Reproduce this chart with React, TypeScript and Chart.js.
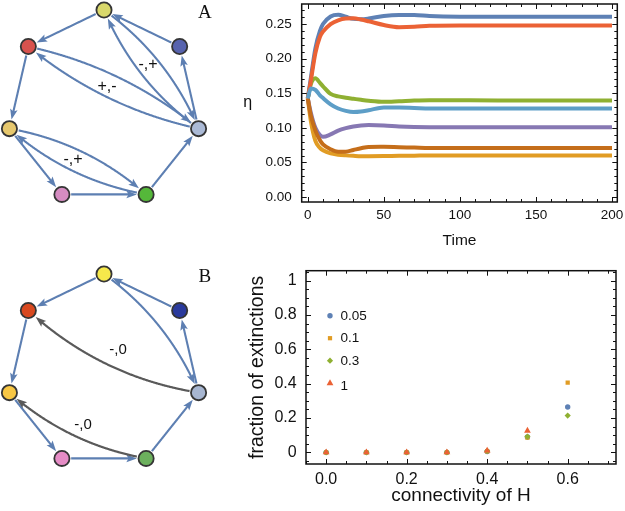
import React, { useEffect, useRef } from "react";
import { Chart, registerables } from "chart.js";

Chart.register(...registerables);

// ---------------- Network panels (A, B): node layout in unit-circle units ----------------
const nodeX = [0, 0.78, 0.975, 0.434, -0.434, -0.975, -0.78];
const nodeY = [1, 0.623, -0.223, -0.901, -0.901, -0.223, 0.623];
const nodeColorsA = ["#d9d86b", "#5763ae", "#abbad6", "#55b83a", "#d58cc1", "#e7c86d", "#d8524e"];
const nodeColorsB = ["#f6e94b", "#2a3a9c", "#a7b6d1", "#6cb05d", "#e68cc6", "#f8c744", "#d9491f"];

const edgeFromA = [0, 6, 5, 4, 3, 2, 1, 0, 2, 6, 2, 5, 3];
const edgeToA = [6, 5, 4, 3, 2, 1, 0, 2, 0, 2, 6, 3, 5];
const edgeBendA = [0, 0, 0, 0, 0, 0, 0, 0.07, 0.07, 0.06, 0.06, 0.07, 0.07];
const edgeKindA = ["b", "b", "b", "b", "b", "b", "b", "b", "b", "b", "b", "b", "b"];

const edgeFromB = [0, 6, 5, 4, 3, 2, 1, 0, 2, 3];
const edgeToB = [6, 5, 4, 3, 2, 1, 0, 2, 6, 5];
const edgeBendB = [0, 0, 0, 0, 0, 0, 0, 0.07, 0.075, 0.07];
const edgeKindB = ["b", "b", "b", "b", "b", "b", "b", "b", "g", "g"];

const edgeLabelsA = ["-,+", "+,-", "-,+"];
const edgeLabelXA = [0.454, 0.031, -0.32];
const edgeLabelYA = [0.433, 0.206, -0.546];
const edgeLabelsB = ["-,0", "-,0"];
const edgeLabelXB = [0.144, -0.216];
const edgeLabelYB = [0.216, -0.557];

// ---------------- Top-right: time series ----------------
const times = [0, 2, 5, 8, 10, 15, 20, 25, 30, 35, 40, 50, 60, 70, 80, 100, 125, 150, 175, 200];
const etaBlue = [0.1425, 0.172, 0.215, 0.24, 0.25, 0.261, 0.2635, 0.2605, 0.2575, 0.257, 0.258, 0.2616, 0.263, 0.263, 0.2616, 0.2607, 0.2606, 0.2606, 0.2606, 0.2606];
const etaOrange = [0.1425, 0.11, 0.081, 0.071, 0.0675, 0.063, 0.0612, 0.0602, 0.0595, 0.059, 0.059, 0.0592, 0.0596, 0.0598, 0.06, 0.06, 0.06, 0.06, 0.06, 0.06];
const etaGreen = [0.1425, 0.163, 0.1715, 0.165, 0.16, 0.149, 0.1455, 0.1435, 0.142, 0.1405, 0.1392, 0.1377, 0.1385, 0.1395, 0.14, 0.1398, 0.1396, 0.1396, 0.1396, 0.1396];
const etaRed = [0.1425, 0.168, 0.208, 0.2317, 0.239, 0.25, 0.2555, 0.258, 0.2583, 0.2565, 0.254, 0.2486, 0.2455, 0.246, 0.2475, 0.248, 0.248, 0.248, 0.248, 0.248];
const etaPurple = [0.1425, 0.122, 0.1, 0.0895, 0.087, 0.0905, 0.096, 0.0995, 0.102, 0.1035, 0.104, 0.1035, 0.102, 0.1012, 0.101, 0.101, 0.101, 0.101, 0.101, 0.101];
const etaBrown = [0.1425, 0.118, 0.096, 0.082, 0.076, 0.069, 0.0655, 0.0655, 0.068, 0.0705, 0.0724, 0.0725, 0.072, 0.0715, 0.071, 0.071, 0.071, 0.071, 0.071, 0.071];
const etaLightBlue = [0.1425, 0.157, 0.155, 0.147, 0.143, 0.134, 0.128, 0.1245, 0.1228, 0.1235, 0.1255, 0.1294, 0.1295, 0.1288, 0.128, 0.1279, 0.128, 0.128, 0.128, 0.128];
const topXTicks = [0, 50, 100, 150, 200];
const topXLabels = ["0", "50", "100", "150", "200"];
const topYTicks = [0, 0.05, 0.1, 0.15, 0.2, 0.25];
const topYLabels = ["0.00", "0.05", "0.10", "0.15", "0.20", "0.25"];

// ---------------- Bottom-right: extinctions ----------------
const connectivity = [0, 0.1, 0.2, 0.3, 0.4, 0.5, 0.6];
const seriesLabels = ["0.05", "0.1", "0.3", "1"];
const ext005 = [0, 0, 0, 0, 0.005, 0.09, 0.264];
const ext01 = [0, 0, 0, 0, 0.005, 0.085, 0.406];
const ext03 = [0, 0, 0, 0, 0.008, 0.092, 0.214];
const ext1 = [0, 0, 0, 0, 0.01, 0.126, null];
const botXTicks = [0, 0.2, 0.4, 0.6];
const botXLabels = ["0.0", "0.2", "0.4", "0.6"];
const botYTicks = [0, 0.2, 0.4, 0.6, 0.8, 1];
const botYLabels = ["0", "0.2", "0.4", "0.6", "0.8", "1"];

const FONT = "'Liberation Sans', Arial, sans-serif";
const INK = "#111";
const EDGE_BLUE = "#5d7fb2";
const EDGE_GRAY = "#5a5a5a";

// ---------------- helpers ----------------
function drawEdge(ctx: CanvasRenderingContext2D, p0: any, p1: any, bend: number, color: string, lw: number) {
  const dx = p1.x - p0.x, dy = p1.y - p0.y;
  const len = Math.hypot(dx, dy);
  const nx = dy / len, ny = -dx / len;
  const cx = (p0.x + p1.x) / 2 + nx * 2 * bend * len;
  const cy = (p0.y + p1.y) / 2 + ny * 2 * bend * len;
  const pts: { x: number; y: number }[] = [];
  const N = 300;
  for (let i = 0; i <= N; i++) {
    const t = i / N;
    const a = (1 - t) * (1 - t), b = 2 * (1 - t) * t, c = t * t;
    pts.push({ x: a * p0.x + b * cx + c * p1.x, y: a * p0.y + b * cy + c * p1.y });
  }
  const d = (p: any, q: any) => Math.hypot(p.x - q.x, p.y - q.y);
  const rS = 9, rE = 9.2, headLen = 10.5, hw = 3.8;
  let s = 0;
  while (s < N && d(pts[s], p0) < rS) s++;
  let e = N;
  while (e > 0 && d(pts[e], p1) < rE) e--;
  const tip = pts[e];
  let bi = e;
  while (bi > s && d(pts[bi], tip) < headLen) bi--;
  const base = pts[bi];
  ctx.save();
  ctx.strokeStyle = color;
  ctx.fillStyle = color;
  ctx.lineWidth = lw;
  ctx.lineCap = "butt";
  ctx.beginPath();
  ctx.moveTo(pts[s].x, pts[s].y);
  for (let i = s + 1; i <= bi; i++) ctx.lineTo(pts[i].x, pts[i].y);
  const ux0 = tip.x - base.x, uy0 = tip.y - base.y;
  const ul = Math.hypot(ux0, uy0) || 1;
  const ux = ux0 / ul, uy = uy0 / ul;
  ctx.lineTo(base.x + ux * 4, base.y + uy * 4);
  ctx.stroke();
  const bx = tip.x - ux * headLen, by = tip.y - uy * headLen;
  const qx = -uy, qy = ux;
  ctx.beginPath();
  ctx.moveTo(tip.x, tip.y);
  ctx.lineTo(bx + qx * hw, by + qy * hw);
  ctx.lineTo(tip.x - ux * headLen * 0.8, tip.y - uy * headLen * 0.8);
  ctx.lineTo(bx - qx * hw, by - qy * hw);
  ctx.closePath();
  ctx.fill();
  ctx.restore();
}

const networkPlugin = {
  id: "network",
  beforeDatasetsDraw(chart: any, _a: any, o: any) {
    const { ctx, scales } = chart;
    const P = (i: number) => ({ x: scales.x.getPixelForValue(nodeX[i]), y: scales.y.getPixelForValue(nodeY[i]) });
    for (let k = 0; k < o.from.length; k++) {
      const gray = o.kind[k] === "g";
      drawEdge(ctx, P(o.from[k]), P(o.to[k]), o.bend[k], gray ? EDGE_GRAY : EDGE_BLUE, gray ? 2.2 : 2.1);
    }
  },
  afterDatasetsDraw(chart: any, _a: any, o: any) {
    const { ctx, scales } = chart;
    ctx.save();
    ctx.fillStyle = INK;
    ctx.textAlign = "center";
    ctx.textBaseline = "middle";
    ctx.font = `${o.labelSize}px ${FONT}`;
    for (let k = 0; k < o.labels.length; k++) {
      ctx.fillText(o.labels[k], scales.x.getPixelForValue(o.lx[k]), scales.y.getPixelForValue(o.ly[k]));
    }
    ctx.font = `19px 'Liberation Serif', 'Times New Roman', serif`;
    ctx.fillText(o.panel, scales.x.getPixelForValue(o.px), scales.y.getPixelForValue(o.py));
    ctx.restore();
  },
};

function majorCheck(v: number, step: number) {
  const r = v / step;
  return Math.abs(r - Math.round(r)) < 1e-6;
}

const framePlugin = {
  id: "frame",
  afterDraw(chart: any, _a: any, o: any) {
    const { ctx, chartArea: a, scales } = chart;
    ctx.save();
    ctx.strokeStyle = INK;
    ctx.lineWidth = 1;
    const xs = scales.x, ys = scales.y;
    ctx.beginPath();
    for (let k = Math.ceil(xs.min / o.xMinor - 1e-9); k * o.xMinor <= xs.max + 1e-9; k++) {
      const v = k * o.xMinor;
      const p = Math.round(xs.getPixelForValue(v)) + 0.5;
      const L = majorCheck(v, o.xMajor) ? 5 : 3;
      ctx.moveTo(p, a.bottom); ctx.lineTo(p, a.bottom - L);
      ctx.moveTo(p, a.top); ctx.lineTo(p, a.top + L);
    }
    for (let k = Math.ceil(ys.min / o.yMinor - 1e-9); k * o.yMinor <= ys.max + 1e-9; k++) {
      const v = k * o.yMinor;
      const p = Math.round(ys.getPixelForValue(v)) + 0.5;
      const L = majorCheck(v, o.yMajor) ? 5 : 3;
      ctx.moveTo(a.left, p); ctx.lineTo(a.left + L, p);
      ctx.moveTo(a.right, p); ctx.lineTo(a.right - L, p);
    }
    ctx.stroke();
    ctx.lineWidth = 1.5;
    ctx.strokeRect(a.left, a.top, a.right - a.left, a.bottom - a.top);
    ctx.fillStyle = INK;
    ctx.textAlign = "center";
    ctx.textBaseline = "middle";
    ctx.font = `${o.xTitleSize}px ${FONT}`;
    ctx.fillText(o.xTitle, (a.left + a.right) / 2, a.bottom + o.xTitleOffset);
    ctx.font = `${o.yTitleSize}px ${FONT}`;
    ctx.translate(a.left - o.yTitleOffset, (a.top + a.bottom) / 2);
    if (o.yTitleRotate) ctx.rotate(-Math.PI / 2);
    ctx.fillText(o.yTitle, 0, 0);
    ctx.restore();
  },
};

function drawMarker(ctx: CanvasRenderingContext2D, style: string, x: number, y: number, r: number, color: string) {
  ctx.fillStyle = color;
  ctx.beginPath();
  if (style === "circle") ctx.arc(x, y, r, 0, Math.PI * 2);
  else if (style === "rect") { const s = r * Math.SQRT1_2; ctx.rect(x - s, y - s, 2 * s, 2 * s); }
  else if (style === "rectRot") { ctx.moveTo(x, y - r); ctx.lineTo(x + r, y); ctx.lineTo(x, y + r); ctx.lineTo(x - r, y); ctx.closePath(); }
  else if (style === "triangle") {
    ctx.moveTo(x, y - r); ctx.lineTo(x + r * 0.866, y + r * 0.5); ctx.lineTo(x - r * 0.866, y + r * 0.5); ctx.closePath();
  }
  ctx.fill();
}

const innerLegendPlugin = {
  id: "innerLegend",
  afterDraw(chart: any, _a: any, o: any) {
    const { ctx, chartArea: a } = chart;
    ctx.save();
    ctx.font = `${o.size}px ${FONT}`;
    ctx.textAlign = "left";
    ctx.textBaseline = "middle";
    chart.data.datasets.forEach((ds: any, i: number) => {
      const x = a.left + o.dx, y = a.top + o.dy + i * o.gap;
      drawMarker(ctx, ds.pointStyle, x, y, ds.pointRadius, ds.backgroundColor);
      ctx.fillStyle = INK;
      ctx.fillText(ds.label, x + 10.5, y + (i === 3 ? 3 : 0.5));
    });
    ctx.restore();
  },
};

// ---------------- configs ----------------
function networkConfig(colors: string[], from: number[], to: number[], bend: number[], kind: string[], labels: string[], lx: number[], ly: number[], panel: string, yMin: number, labelSize: number): any {
  return {
    type: "scatter",
    data: {
      datasets: [
        {
          data: nodeX.map((x, i) => ({ x, y: nodeY[i] })),
          pointRadius: 7.6,
          pointHoverRadius: 7.6,
          pointBackgroundColor: colors,
          pointBorderColor: "#353535",
          pointBorderWidth: 1.8,
          clip: false,
        },
      ],
    },
    options: {
      responsive: false,
      animation: false,
      events: [],
      layout: { padding: 0, autoPadding: false },
      scales: {
        x: { type: "linear", display: false, min: -1.0722, max: 1.3505 },
        y: { type: "linear", display: false, min: yMin, max: 1.1031 },
      },
      plugins: {
        legend: { display: false },
        tooltip: { enabled: false },
        network: { from, to, bend, kind, labels, lx, ly, panel, px: 1.04, py: 0.97, labelSize },
      },
    },
    plugins: [networkPlugin],
  };
}

function tickAxis(values: number[], labels: string[], size: number, pad: number, min: number, max: number, fit: (s: any) => void) {
  return {
    type: "linear",
    min,
    max,
    grid: { display: false, drawTicks: false },
    border: { display: false },
    afterBuildTicks: (s: any) => { s.ticks = values.map((v) => ({ value: v })); },
    afterFit: (s: any) => {
      fit(s);
      s.paddingTop = 0; s.paddingBottom = 0; s.paddingLeft = 0; s.paddingRight = 0;
    },
    ticks: {
      autoSkip: false,
      maxRotation: 0,
      padding: pad,
      color: INK,
      font: { family: FONT, size },
      callback: (_v: any, i: number) => labels[i],
    },
  };
}

function topConfig(): any {
  const series = [etaBlue, etaOrange, etaGreen, etaRed, etaPurple, etaBrown, etaLightBlue];
  const colors = ["#5e81b5", "#e19c24", "#8fb032", "#eb6235", "#8778b3", "#c56e1a", "#5d9ec7"];
  return {
    type: "line",
    data: {
      labels: times,
      datasets: series.map((s, i) => ({
        data: times.map((t, j) => ({ x: t, y: s[j] })),
        borderColor: colors[i],
        borderWidth: 4,
        pointRadius: 0,
        cubicInterpolationMode: "monotone",
        fill: false,
        order: 6 - i,
      })),
    },
    options: {
      responsive: false,
      animation: false,
      events: [],
      layout: { padding: { top: 4, right: 7.7, left: 0, bottom: 0 }, autoPadding: false },
      scales: {
        x: tickAxis(topXTicks, topXLabels, 13.5, 5, -4, 203.5, (s: any) => { s.height = 48; }),
        y: tickAxis(topYTicks, topYLabels, 13.5, 10, -0.0072, 0.279, (s: any) => { s.width = 61.7; }),
      },
      plugins: {
        legend: { display: false },
        tooltip: { enabled: false },
        frame: { xMajor: 50, xMinor: 10, yMajor: 0.05, yMinor: 0.01, xTitle: "Time", xTitleSize: 15.5, xTitleOffset: 38.5, yTitle: "η", yTitleSize: 16, yTitleOffset: 54, yTitleRotate: false },
      },
    },
    plugins: [framePlugin],
  };
}

function bottomConfig(): any {
  const series = [ext005, ext01, ext03, ext1];
  const colors = ["#5e81b5", "#e19c24", "#8fb032", "#eb6235"];
  const styles = ["circle", "rect", "rectRot", "triangle"];
  const radii = [2.7, 3, 3.1, 3.9];
  return {
    type: "scatter",
    data: {
      datasets: series.map((s, i) => ({
        label: seriesLabels[i],
        data: connectivity.map((c, j) => ({ x: c, y: s[j] })).filter((p) => p.y !== null),
        pointStyle: styles[i],
        pointRadius: radii[i],
        pointHoverRadius: radii[i],
        backgroundColor: colors[i],
        borderColor: colors[i],
        pointBorderWidth: 0,
        order: 3 - i,
      })),
    },
    options: {
      responsive: false,
      animation: false,
      events: [],
      layout: { padding: { top: 15.7, right: 9, left: 0, bottom: 0 }, autoPadding: false },
      scales: {
        x: tickAxis(botXTicks, botXLabels, 16, 5.5, -0.05, 0.72, (s: any) => { s.height = 47; }),
        y: tickAxis(botYTicks, botYLabels, 16, 9.3, -0.068, 1.058, (s: any) => { s.width = 66; }),
      },
      plugins: {
        legend: { display: false },
        tooltip: { enabled: false },
        frame: { xMajor: 0.2, xMinor: 0.05, yMajor: 0.2, yMinor: 0.05, xTitle: "connectivity of H", xTitleSize: 19, xTitleOffset: 32, yTitle: "fraction of extinctions", yTitleSize: 19.5, yTitleOffset: 48, yTitleRotate: true },
        innerLegend: { dx: 24, dy: 45, gap: 22.5, size: 13.5 },
      },
    },
    plugins: [framePlugin, innerLegendPlugin],
  };
}

function ChartBox({ left, top, width, height, make }: { left: number; top: number; width: number; height: number; make: () => any }) {
  const ref = useRef<HTMLCanvasElement>(null);
  useEffect(() => {
    const chart = new Chart(ref.current as HTMLCanvasElement, make());
    return () => chart.destroy();
  }, []);
  return <canvas ref={ref} width={width} height={height} style={{ position: "absolute", left, top, width, height }} />;
}

export default function App() {
  return (
    <div style={{ position: "fixed", left: 0, top: 0, width: 625, height: 511, background: "#fff", overflow: "hidden" }}>
      <ChartBox left={0} top={0} width={235} height={240}
        make={() => networkConfig(nodeColorsA, edgeFromA, edgeToA, edgeBendA, edgeKindA, edgeLabelsA, edgeLabelXA, edgeLabelYA, "A", -1.3711, 16)} />
      <ChartBox left={0} top={264} width={235} height={247}
        make={() => networkConfig(nodeColorsB, edgeFromB, edgeToB, edgeBendB, edgeKindB, edgeLabelsB, edgeLabelXB, edgeLabelYB, "B", -1.4433, 15)} />
      <ChartBox left={240} top={0} width={385} height={250} make={topConfig} />
      <ChartBox left={240} top={255} width={385} height={256} make={bottomConfig} />
    </div>
  );
}
